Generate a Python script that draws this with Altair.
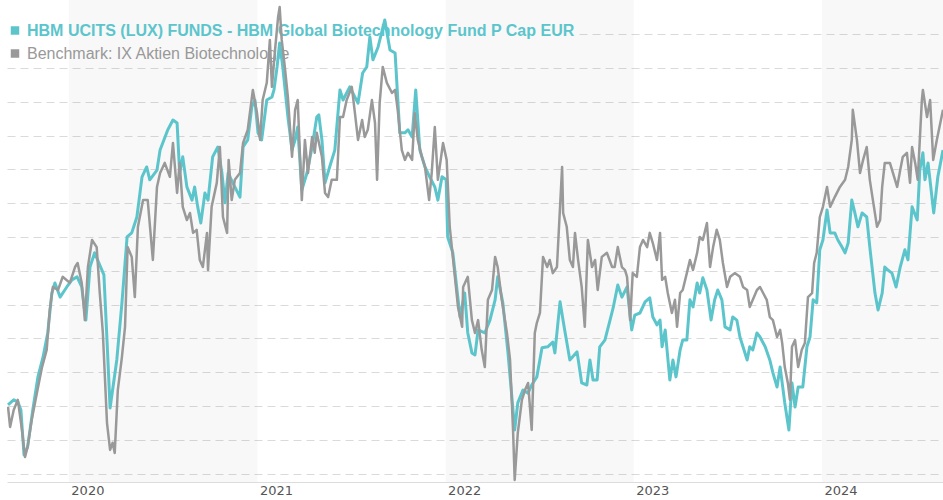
import altair as alt
import pandas as pd

FUND_NAME = "HBM UCITS (LUX) FUNDS - HBM Global Biotechnology Fund P Cap EUR"
BENCH_NAME = "Benchmark: IX Aktien Biotechnologie"
FUND_COLOR = "#5cc5cc"
BENCH_COLOR = "#999999"

BASE_DATE = "2020-01-01"
FIRST_DAY = -120   # visible range start (days from base)
LAST_DAY = 1696    # visible range end

# (days since 2020-01-01, indexed value)
FUND = [(-118,100.3),(-107,101.8),(-99,101.2),(-93,98.8),(-87,85.5),(-80,87.9),(-70,98.8),(-60,108.6),
        (-50,114.5),(-41,121.6),(-33,133.4),(-27,136.4),(-17,132.2),(-4,135.2),(6,137.3),(16,138.2),
        (25,135.2),(33,125.4),(41,141.1),(50,145.3),(60,141.7),(68,138.8),(74,119.5),(80,99.4),
        (93,113.6),(103,130.5),(113,150.0),(122,151.2),(132,155.9),(142,167.8),(151,170.7),(157,166.9),
        (171,169.8),(177,175.7),(192,181.7),(202,184.6),(210,183.7),(215,168.9),(221,173.7),(229,164.8),
        (239,160.9),(244,164.8),(250,158.9),(256,154.1),(264,163.0),(270,160.9),(279,173.7),(289,176.6),
        (297,168.9),(303,160.1),(309,168.9),(322,164.8),(332,161.8),(338,176.6),(347,178.7),(355,188.5),
        (361,190.5),(367,180.8),(374,178.7),(384,190.5),(394,191.4),(398,193.5),(404,200.3),(409,207.4),
        (415,200.3),(425,185.5),(433,175.7),(439,178.7),(444,182.5),(452,163.9),(462,168.9),(472,176.6),
        (481,185.5),(485,186.1),(491,178.7),(497,166.0),(506,170.7),(516,175.7),(526,193.5),(532,190.5),
        (545,194.4),(561,189.6),(570,198.5),(578,200.3),(584,209.2),(590,202.4),(600,206.2),(613,214.2),
        (623,205.3),(633,204.4),(642,180.8),(652,180.8),(658,181.7),(666,179.6),(673,193.5),(681,175.7),
        (691,170.7),(700,167.8),(710,164.8),(716,160.9),(724,167.8),(732,166.9),(735,150.0),(745,145.3),
        (759,126.3),(768,133.4),(774,121.6),(782,115.7),(788,115.1),(794,122.5),(807,121.6),(817,125.4),
        (827,131.4),(832,138.2),(842,130.5),(852,115.7),(860,101.8),(865,92.9),(871,100.9),(881,104.7),
        (891,103.8),(898,106.2),(908,108.6),(918,117.2),(929,117.5),(939,118.9),(943,115.7),(953,130.8),
        (962,122.5),(972,113.6),(986,116.0),(995,106.8),(1005,106.2),(1011,113.6),(1017,107.7),(1025,107.7),
        (1030,117.5),(1040,119.5),(1050,125.4),(1056,129.0),(1065,135.8),(1073,132.2),(1083,135.2),(1092,122.5),
        (1098,126.9),(1108,127.5),(1118,130.8),(1127,132.0),(1133,126.3),(1141,124.0),(1147,125.4),(1151,117.5),
        (1157,122.5),(1166,107.7),(1172,113.6),(1178,108.6),(1186,116.6),(1191,119.5),(1199,119.5),(1205,131.4),
        (1211,129.3),(1219,136.4),(1224,133.4),(1230,137.9),(1238,134.3),(1246,125.4),(1253,131.4),(1259,134.3),
        (1267,131.4),(1273,123.4),(1283,122.5),(1288,126.3),(1296,125.4),(1302,120.4),(1308,117.5),(1316,113.6),
        (1321,117.5),(1327,116.6),(1335,121.6),(1341,120.4),(1351,117.5),(1360,113.6),(1366,109.8),(1374,105.6),
        (1380,111.5),(1389,100.9),(1397,92.9),(1403,106.8),(1409,99.7),(1415,105.6),(1424,105.6),(1432,117.5),
        (1438,120.4),(1444,131.4),(1451,130.5),(1457,146.2),(1463,149.1),(1471,158.0),(1477,151.2),(1486,151.2),
        (1492,149.1),(1500,147.0),(1506,145.3),(1512,148.2),(1519,160.9),(1525,157.1),(1531,153.0),(1539,157.1),
        (1548,155.9),(1554,147.0),(1564,133.4),(1570,128.4),(1578,133.4),(1583,141.1),(1589,140.2),(1597,139.3),
        (1605,135.2),(1613,141.1),(1622,146.2),(1628,143.2),(1636,158.9),(1646,155.0),(1651,169.8),(1657,174.9),
        (1661,166.9),(1667,171.9),(1678,157.1),(1686,167.8),(1696,175.7)]

BENCH = [(-118,99.7),(-114,93.8),(-107,98.8),(-99,101.8),(-91,92.9),(-85,84.9),(-80,87.9),(-72,95.9),
         (-62,103.8),(-52,111.5),(-43,116.6),(-37,128.4),(-31,135.2),(-21,134.3),(-12,138.2),(2,136.4),
         (12,141.1),(17,142.3),(25,136.4),(31,125.4),(37,141.1),(45,149.1),(54,147.0),(60,133.4),
         (66,121.6),(74,95.0),(80,87.0),(85,89.1),(89,86.1),(95,104.7),(103,114.5),(109,123.4),
         (114,147.0),(122,144.1),(128,132.2),(134,153.0),(144,160.9),(153,160.9),(163,143.2),(171,164.8),
         (177,168.9),(186,171.9),(196,167.8),(202,177.8),(210,163.0),(215,171.9),(221,158.9),(229,155.0),
         (235,157.1),(241,151.2),(248,152.1),(254,143.2),(260,141.1),(268,151.2),(270,140.2),(277,158.9),
         (287,166.0),(293,176.6),(299,155.9),(307,151.2),(310,172.8),(316,160.9),(322,166.9),(332,168.9),
         (338,177.8),(347,181.7),(357,193.5),(365,186.7),(371,178.7),(376,190.5),(384,195.6),(390,208.3),
         (394,194.4),(400,205.3),(406,215.1),(409,218.0),(413,208.3),(419,200.3),(425,191.4),(433,173.7),
         (439,187.6),(444,190.5),(452,160.9),(458,178.7),(464,168.9),(472,179.6),(477,174.9),(481,180.8),
         (491,173.7),(497,163.0),(503,161.8),(510,166.9),(520,166.9),(526,185.5),(532,185.5),(539,190.5),
         (549,194.4),(555,186.7),(561,178.7),(569,184.6),(574,179.6),(580,181.7),(588,190.5),(594,183.7),
         (598,166.9),(603,189.6),(609,200.3),(617,195.6),(627,192.6),(633,193.5),(638,187.6),(646,175.7),
         (652,172.8),(658,174.9),(666,172.8),(671,186.7),(677,178.7),(685,173.7),(691,170.7),(699,160.9),
         (704,168.9),(710,182.5),(716,166.9),(726,177.8),(733,172.8),(739,153.0),(745,144.1),(755,129.3),
         (763,123.4),(765,135.2),(774,138.2),(782,125.4),(788,121.6),(794,125.4),(801,116.6),(807,111.5),
         (813,131.4),(821,134.3),(827,144.1),(832,141.1),(840,131.4),(850,121.6),(856,113.6),(862,92.0),
         (865,78.1),(871,92.0),(879,101.8),(885,104.7),(891,106.8),(898,92.9),(904,121.6),(908,124.6),
         (914,127.5),(920,144.1),(928,141.1),(933,143.2),(939,139.3),(947,141.1),(953,158.9),(957,170.7),
         (959,157.1),(966,153.0),(972,143.2),(978,141.1),(982,151.2),(988,143.2),(995,135.2),(1001,123.4),
         (1007,149.1),(1015,141.1),(1021,143.2),(1026,134.3),(1034,144.1),(1044,145.3),(1054,141.1),(1059,141.1),
         (1065,147.0),(1073,141.1),(1079,140.2),(1083,138.2),(1089,125.4),(1094,139.3),(1102,138.2),(1108,147.0),
         (1114,149.1),(1122,147.0),(1127,151.2),(1133,148.2),(1141,143.2),(1147,151.2),(1151,137.3),(1157,138.2),
         (1162,133.4),(1170,127.5),(1176,131.4),(1180,123.4),(1186,133.4),(1191,134.3),(1199,139.3),(1205,143.2),
         (1211,140.2),(1219,145.3),(1224,150.0),(1230,149.1),(1238,154.1),(1244,141.1),(1250,147.0),(1257,152.1),
         (1263,149.1),(1269,142.3),(1277,135.2),(1283,138.2),(1292,139.3),(1302,138.2),(1308,135.2),(1316,134.3),
         (1321,129.3),(1327,131.4),(1335,134.3),(1341,135.2),(1347,133.4),(1354,131.4),(1360,126.3),(1366,125.4),
         (1374,120.4),(1380,122.5),(1384,118.6),(1389,111.5),(1395,106.8),(1399,101.8),(1403,117.5),(1409,119.5),
         (1415,111.5),(1422,116.6),(1428,118.6),(1434,132.2),(1442,133.4),(1446,142.3),(1451,145.3),(1457,155.9),
         (1463,158.9),(1471,164.8),(1477,158.9),(1486,161.8),(1496,164.8),(1506,166.9),(1512,170.7),(1519,178.7),
         (1521,187.6),(1529,178.7),(1535,168.9),(1541,172.8),(1548,176.6),(1554,166.9),(1560,160.9),(1568,153.0),
         (1574,155.0),(1578,164.8),(1583,171.9),(1593,171.9),(1599,168.9),(1607,164.8),(1613,169.8),(1618,173.7),
         (1626,174.9),(1632,166.0),(1636,176.6),(1642,171.9),(1647,166.9),(1655,190.5),(1657,193.5),(1665,185.5),
         (1671,190.5),(1677,172.8),(1684,178.7),(1696,187.6)]

GRID_VALUES = [80, 90, 100, 110, 120, 130, 140, 150, 160, 170, 180, 190, 200, 210]
Y_DOMAIN = [77.5, 220.1]
YEAR_TICKS = [2020, 2021, 2022, 2023, 2024]
SHADED_YEARS = [2020, 2022, 2024]

base = pd.Timestamp(BASE_DATE)


def to_frame(pairs):
    days, vals = zip(*pairs)
    return pd.DataFrame({"date": base + pd.to_timedelta(list(days), unit="D"),
                         "value": list(vals)})


fund_df = to_frame(FUND)
bench_df = to_frame(BENCH)
bands_df = pd.DataFrame({
    "start": [pd.Timestamp(year=y, month=1, day=1) for y in SHADED_YEARS],
    "end": [pd.Timestamp(year=y + 1, month=1, day=1) for y in SHADED_YEARS],
})


def dt(ts):
    return alt.DateTime(year=ts.year, month=ts.month, date=ts.day)


x_scale = alt.Scale(domain=[dt(base + pd.Timedelta(days=FIRST_DAY)),
                            dt(base + pd.Timedelta(days=LAST_DAY))], nice=False)
x_axis = alt.Axis(values=[alt.DateTime(year=y, month=1, date=1) for y in YEAR_TICKS],
                  format="%Y", labelAlign="left", labelBaseline="top", labelOffset=2,
                  labelPadding=2, ticks=False, grid=False, domainColor="#dcdcdc",
                  domainWidth=1, labelFont="DejaVu Sans", labelFontSize=13,
                  labelColor="#555555", labelFlush=False, labelOverlap=False, title=None)
y_enc = alt.Y("value:Q",
              scale=alt.Scale(domain=Y_DOMAIN, nice=False, zero=False),
              axis=alt.Axis(values=GRID_VALUES, grid=True, gridColor="#dadada",
                            gridDash=[8, 5], gridWidth=1, domain=False, ticks=False,
                            labels=False, title=None))

legend_box = alt.Chart(pd.DataFrame({"k": [0]})).mark_rect(color="white").encode(
    x=alt.value(-7), x2=alt.value(571), y=alt.value(15), y2=alt.value(62))

bands = alt.Chart(bands_df).mark_rect(color="#000000", opacity=0.028, clip=True).encode(
    x=alt.X("start:T", scale=x_scale, axis=x_axis), x2="end:T")

fund_sym = alt.Chart(pd.DataFrame({"name": [FUND_NAME]})).mark_square(
    size=72, color=FUND_COLOR, opacity=1).encode(x=alt.value(8), y=alt.value(30.5))
bench_sym = alt.Chart(pd.DataFrame({"name": [BENCH_NAME]})).mark_square(
    size=72, color=BENCH_COLOR, opacity=1).encode(x=alt.value(8), y=alt.value(53.5))
fund_lbl = alt.Chart(pd.DataFrame({"name": [FUND_NAME]})).mark_text(
    align="left", baseline="alphabetic", font="Liberation Sans", fontSize=16,
    fontWeight="bold", color=FUND_COLOR).encode(x=alt.value(20), y=alt.value(36), text="name:N")
bench_lbl = alt.Chart(pd.DataFrame({"name": [BENCH_NAME]})).mark_text(
    align="left", baseline="alphabetic", font="Liberation Sans", fontSize=16,
    color=BENCH_COLOR).encode(x=alt.value(20), y=alt.value(59), text="name:N")

fund_line = alt.Chart(fund_df).mark_line(color=FUND_COLOR, strokeWidth=3, clip=True,
                                         strokeJoin="round").encode(
    x=alt.X("date:T", scale=x_scale, axis=x_axis), y=y_enc)
bench_line = alt.Chart(bench_df).mark_line(color=BENCH_COLOR, strokeWidth=2.5, clip=True,
                                           strokeJoin="round").encode(
    x=alt.X("date:T", scale=x_scale, axis=x_axis), y=y_enc)

chart = alt.layer(
    legend_box, bands, fund_sym, bench_sym, fund_lbl, bench_lbl, fund_line, bench_line
).properties(
    width=936, height=482,
    padding={"left": 7, "top": 0, "right": 0, "bottom": 18},
    autosize=alt.AutoSizeParams(type="none"),
    background="white",
).configure_view(stroke=None)

chart.save("out.html", embed_options={"renderer": "svg", "actions": False})
